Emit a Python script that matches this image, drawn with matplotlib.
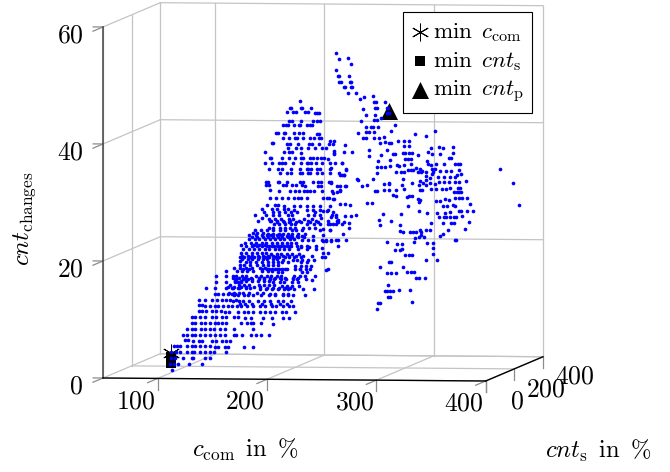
import matplotlib
matplotlib.use('Agg')
import matplotlib.pyplot as plt
from mpl_toolkits.mplot3d import proj3d

plt.rcParams['mathtext.fontset'] = 'cm'

x_ticks = [100, 200, 300, 400]
y_ticks = [0, 200, 400]
z_ticks = [0, 20, 40, 60]

# left cloud, one list of c_com per cnt_changes level, with a cnt_s estimate per level
left_cnt_s = 50
lower_levels = [1, 2, 3, 4, 5, 6, 7, 8, 9, 10, 11, 12, 13, 14, 15, 16, 17, 18]
lower_cnt_s = [50] * 18
lower_c_com = [
    [107],
    [105, 108, 112, 122, 134],
    [106, 109, 117, 125, 126, 137, 141],
    [106, 110, 114, 120, 125, 127, 132, 137, 141, 145, 156],
    [108, 111, 114, 120, 125, 128, 132, 137, 141, 146, 149, 155, 158, 172, 181],
    [118, 121, 126, 131, 134, 143, 147, 152, 156, 160],
    [117, 120, 125, 128, 132, 137, 141, 146, 150, 155, 163, 165, 171, 179, 183, 188, 195],
    [120, 125, 128, 133, 137, 141, 145, 150, 155, 163, 181],
    [125, 128, 133, 137, 141, 146, 149, 152, 156, 170, 175, 179, 181, 188, 199],
    [125, 128, 132, 137, 143, 147, 152, 156, 163, 167, 173, 179, 190, 198, 208, 214],
    [131, 134, 138, 143, 147, 151, 155, 159, 167, 172, 176, 181, 187, 192, 196, 201, 207, 211, 219],
    [131, 134, 137, 141, 146, 149, 153, 158, 161, 166, 170, 175, 181, 187, 192, 198, 202, 208, 214, 217],
    [131, 137, 143, 148, 152, 156, 160, 165],
    [146, 149, 153, 158, 161, 164],
    [138, 146, 156, 161, 167],
    [147, 156, 164, 167, 170],
    [147, 156, 162],
    [156],
]

mid_levels = [29.3, 28.4, 27.6, 26.7, 25.9, 25, 24.2, 23.3, 22.4, 21.6, 20.7, 19.9, 19, 18.2, 17.3, 16.5, 15.6, 14.8, 13.9, 13, 12.2]
mid_cnt_s = [40, 62, 48, 35, 66, 52, 38, 60, 44, 68, 34, 56, 46, 64, 36, 58, 42, 66, 50, 38, 60]
mid_c_com = [
    [195, 202, 205, 210, 219, 225, 231, 237, 243],
    [187, 196, 201, 207, 211, 217, 228, 234, 240, 248],
    [183, 193, 199, 205, 213, 217, 231, 237, 242, 253, 257],
    [187, 199, 205, 210, 216, 225, 233, 240, 251, 259],
    [198, 202, 208, 213, 217, 228, 234, 240, 249, 254],
    [182, 188, 193, 199, 205, 210, 216, 220, 225, 242, 251],
    [179, 185, 190, 195, 199, 204, 208, 213, 217, 222, 227, 237],
    [176, 181, 185, 190, 195, 199, 204, 208, 213, 217, 224, 230, 234, 242, 246, 251, 257],
    [170, 182, 187, 192, 196, 201, 205, 210, 214, 225, 231, 239],
    [169, 175, 179, 184, 189, 193, 198, 202, 207, 211, 219, 228, 236],
    [173, 178, 182, 187, 192, 196, 201, 205, 210, 216, 222, 228, 237, 246, 249],
    [170, 175, 179, 184, 189, 193, 198, 202, 207, 216, 220, 225, 230, 236],
    [169, 173, 178, 185, 190, 195, 199, 204, 220, 225, 230, 234],
    [170, 175, 187, 192, 196, 201, 205, 210, 222, 227, 231, 247],
    [167, 172, 176, 185, 190, 195, 199, 204, 208, 220, 225, 230, 239],
    [164, 170, 175, 179, 185, 190, 195, 199, 205, 210, 216, 220, 228, 234],
    [161, 169, 173, 178, 187, 192, 196, 201, 208, 213, 217, 224],
    [160, 166, 172, 176, 185, 190, 196, 201, 207, 211, 216, 224, 234],
    [163, 167, 172, 176, 181, 188, 195, 201, 208, 213, 217, 228],
    [164, 169, 173, 179, 187, 192, 198, 205, 210, 217],
    [167, 172, 178, 188, 196, 204, 210],
]

# the dense core between the levels above
core_levels = [28, 27.1, 26.3, 25.4, 24.6, 23.7, 22.8, 22, 21.1, 20.3, 19.4, 18.6, 17.8, 16.9, 16, 15.2, 14.3]
core_cnt_s = [58, 36, 64, 44, 30, 62, 48, 70, 38, 54, 66, 32, 60, 42, 68, 46, 34]
core_c_com = [
    [190, 198, 203, 209, 214, 220, 236],
    [191, 197, 203, 208, 215, 219, 229, 236],
    [194, 201, 207, 212, 218, 223, 231, 238],
    [196, 200, 206, 211, 215, 220, 227, 233, 238],
    [183, 187, 192, 197, 202, 207, 211, 215, 219, 224, 231],
    [178, 183, 188, 193, 197, 202, 206, 211, 215, 220, 226],
    [174, 179, 184, 189, 193, 198, 203, 207, 212, 216, 220],
    [172, 177, 182, 186, 191, 195, 200, 204, 209, 213, 218, 222, 229],
    [171, 176, 181, 186, 190, 194, 199, 204, 208, 213, 218, 224],
    [168, 172, 177, 181, 186, 191, 195, 200, 204, 209, 213, 218, 224],
    [167, 172, 176, 181, 187, 192, 197, 201, 205, 211, 222, 228],
    [166, 171, 177, 182, 189, 194, 198, 203, 207, 212, 221, 226],
    [165, 169, 174, 179, 188, 193, 197, 202, 206, 224, 229],
    [163, 169, 174, 180, 187, 192, 197, 202, 206, 211, 218, 223],
    [162, 167, 172, 177, 183, 188, 193, 197, 203, 207, 214, 219],
    [158, 164, 170, 175, 182, 188, 194, 199, 205, 210, 215],
    [161, 165, 170, 174, 179, 186, 192, 198, 203, 210, 215],
]

upper_levels = [47, 46, 45, 43.7, 42.8, 41.7, 40.7, 39.9, 38.9, 38.3, 37.5, 36.4, 35.5, 34.6, 33.4, 32.6, 31.6, 30.5]
upper_cnt_s = [50, 38, 62, 44, 68, 34, 56, 40, 66, 48, 30, 60, 42, 70, 36, 54, 64, 46]
upper_c_com = [
    [224],
    [216, 217, 226, 227, 235],
    [210, 216, 218, 227, 229, 236, 238, 239],
    [214, 217, 225, 236, 240, 243],
    [206, 208, 210, 216, 220, 221, 228, 230, 232],
    [204, 206, 211, 212, 220, 225, 228, 241, 243],
    [207, 213, 218, 220, 226, 232, 236, 240, 242],
    [199, 200, 213, 216, 223, 233, 236, 242, 251, 255],
    [211, 218, 222, 229, 235, 242, 245],
    [192, 209, 214, 217, 225, 255],
    [199, 200, 210, 216, 222, 227, 229, 235, 238, 242, 245, 248, 252],
    [190, 197, 203, 206, 209, 216, 223, 229, 230, 232, 237, 242, 254],
    [196, 205, 208, 216, 225, 231, 232, 235, 240, 243, 252],
    [203, 209, 213, 221, 223, 228, 230, 237, 241, 257],
    [194, 196, 205, 206, 214, 225, 228, 237, 242, 245, 252],
    [192, 195, 208, 210, 216, 219, 225, 228, 240, 242, 257, 260],
    [194, 203, 213, 217, 221, 225, 228, 231, 235, 242, 251],
    [197, 202, 208, 213, 219, 222, 225, 231, 245, 249, 254],
]

# right cloud, (c_com, cnt_changes) pairs
right_cnt_s = 150
top_points = [
    (243, 54.3), (246, 53.3), (254, 53.4), (257, 52.4), (243, 51.3), (245, 50.4), (246, 50.4), (255, 50.4),
    (246, 49.4), (248, 49.4), (256, 49.4), (257, 49.4), (251, 48.5), (252, 48.5), (257, 48.5), (258, 48.5),
    (254, 47.4), (262, 47.4), (265, 46.5), (269, 46.8), (277, 47), (268, 44.8), (278, 46), (280, 46), (288, 46),
    (279, 45), (281, 45), (271, 43.7), (279, 43.7), (290, 45), (291, 45), (290, 44.1), (292, 44.1), (266, 42.7),
    (278, 42.8), (281, 42.9), (285, 43.2), (297, 42.1), (271, 41.7), (275, 41.7), (277, 41.7), (282, 41.7),
]
bridge_points = [
    (238, 39.3), (242, 39.3), (242, 37.6), (242, 37), (238, 35.5), (239, 34.6), (249, 35.5), (253, 34.3),
    (238, 33.8), (247, 33.5), (251, 33.5), (239, 32.3), (239, 32), (253, 31.5), (241, 30.4), (244, 30.6),
    (247, 30.8), (237, 29.4), (242, 29.4),
]
high_points = [
    (264, 40.7), (271, 40.9), (274, 40.9), (278, 40.9), (294, 41.1), (316, 40.5), (326, 40.2), (334, 41.1),
    (268, 39.8), (271, 39.8), (278, 39.8), (283, 39.8), (287, 40), (284, 38.9), (288, 39.1), (292, 39), (294, 39),
    (300, 39.3), (306, 39.3), (310, 39.4), (252, 38.5), (251, 37.4), (258, 37.4), (274, 37.8), (306, 38.4),
    (310, 38.4), (290, 37.8), (296, 37.1), (297, 37.1), (274, 36.8), (285, 36.9), (305, 37.3), (307, 37.3),
    (310, 37.3), (313, 37.3), (318, 36.9), (307, 36.3), (309, 36.3), (312, 36.3), (282, 35.8), (293, 36),
    (312, 35.4), (299, 35.3), (301, 35.1), (306, 35.3), (249, 35.5), (330, 38.2), (338, 38.4), (341, 38.2),
    (350, 38.4), (328, 37.5), (331, 37.1), (339, 37.1), (350, 37.4), (327, 36), (328, 35.4), (330, 35.2),
    (347, 36.4), (349, 36.4), (335, 35.5), (342, 35.4), (352, 35.5), (355, 35.5), (357, 35.5), (356, 34.5),
]
centre_points = [
    (253, 34.5), (281, 34.9), (285, 34.9), (288, 34.9), (293, 35), (317, 34.8), (320, 34.5), (322, 34.3),
    (298, 34), (303, 34.1), (306, 34.1), (309, 34.3), (312, 34.3), (314, 34.3), (318, 34), (321, 34), (326, 34.1),
    (331, 34.6), (334, 34.6), (332, 34.1), (339, 34.3), (344, 34.3), (349, 34.3), (331, 33.7), (249, 33.4),
    (251, 33.4), (281, 33.8), (337, 33.3), (342, 33.3), (348, 33.3), (352, 33.3), (354, 33.6), (358, 33.7),
    (326, 33.3), (326, 32.7), (329, 33), (263, 32.7), (264, 32.6), (277, 32.8), (305, 32.8), (304, 31.8),
    (320, 32.5), (319, 31.8), (323, 32.1), (326, 31.8), (329, 32.1), (334, 32.1), (338, 32.3), (342, 32.4),
    (347, 32.4), (352, 32.4), (356, 32.4), (362, 32.5), (252, 31.6), (267, 31.6), (272, 31.7), (287, 32),
    (292, 32.1), (292, 32), (313, 32.1), (247, 30.7), (279, 30.8), (281, 30.8), (287, 30.9), (292, 31), (298, 31),
    (306, 31.1), (320, 31), (322, 30.9), (330, 31.1), (335, 31.1), (340, 31.1), (344, 31.2), (348, 31.3),
    (355, 31.4), (357, 31.4), (351, 30.6), (354, 30.6), (356, 30.6), (358, 30.7), (296, 30), (298, 30), (310, 30),
    (313, 30), (308, 29.7), (318, 29.4), (320, 29.3), (319, 29), (352, 29.6), (356, 29.6), (359, 29.6), (363, 29.6),
    (335, 29.2), (339, 29.2), (343, 29.4), (347, 29.3),
]
low_points = [
    (238, 28.2), (247, 28.4), (252, 28.4), (256, 28.4), (272, 28.6), (276, 28.7), (309, 28.2), (232, 27.3),
    (235, 27.3), (239, 26.3), (243, 26.3), (241, 27.1), (245, 25.8), (252, 26.4), (257, 26.5), (262, 26.6),
    (230, 26), (236, 25), (241, 25.1), (245, 25.4), (249, 25.1), (251, 25.4), (255, 25.3), (255, 24.4), (232, 24.2),
    (238, 24.1), (250, 23.4), (232, 23.1), (232, 22.1), (234, 22.1), (239, 22.1), (243, 22.3), (253, 22.4),
    (245, 21.3), (231, 21), (232, 20.1), (236, 20.1), (234, 17.2), (286, 26.9), (283, 25.8), (284, 24.9),
    (294, 25.7), (303, 26.8), (302, 25), (302, 24), (305, 23.7), (311, 23.8), (314, 23.8), (317, 23.8), (319, 27.4),
    (327, 27), (330, 25.3), (320, 24.1), (321, 23.8), (326, 24.2), (329, 24.2), (321, 23.3), (319, 23), (316, 22.8),
    (324, 23), (315, 22), (327, 22), (332, 22), (290, 22), (299, 21.7), (304, 21.7), (297, 20.7), (302, 20.7),
    (304, 20.8), (307, 19.8), (310, 19.8), (313, 19.8), (332, 21.1), (332, 20.1), (326, 19), (336, 19.1),
    (292, 18.7), (294, 18.7), (284, 17.7), (305, 17.8), (290, 16.7), (294, 16.7), (298, 16.8), (308, 17), (312, 17),
    (315, 17), (317, 15.9), (319, 16), (325, 16), (291, 14.7), (288, 13.7), (290, 13.7), (293, 13.7), (296, 13.7),
    (301, 13.8), (311, 13.9), (291, 12.7), (293, 12.7), (313, 11.9), (282, 11.6), (284, 11.6), (281, 10.6),
    (336, 27.1), (343, 27.1), (348, 27.2), (341, 28.2), (345, 28.2), (350, 28.5), (352, 28.3), (366, 28.6),
    (356, 27.5), (358, 27.5), (363, 27.5), (369, 27.5), (338, 26.4), (342, 26.4), (344, 26.4), (348, 26.4),
    (351, 26.4), (353, 26.4), (359, 26.6), (341, 25.3), (349, 25.3), (351, 25.4), (365, 25.5), (346, 24.2),
    (361, 24.4), (339, 23.2), (341, 23.4), (352, 22.5), (353, 22.4),
]
tail_points = [(393, 34.6), (405, 32.3), (411, 28.5)]

# minima
min_com = (106, 50, 3.9)
min_s_c_com = [106, 106]
min_s_changes = [3.1, 2.1]
min_p = (292, 150, 44.5)

GRID = '#c4c4c4'
TICK = '#8c8c8c'
BLUE = '#0000ff'


def expand(levels, cnt_s, rows):
    xs = [v for row in rows for v in row]
    ys = [s for s, row in zip(cnt_s, rows) for _ in row]
    zs = [lev for lev, row in zip(levels, rows) for _ in row]
    return xs, ys, zs


def seg(p, q, **kw):
    ax.plot([p[0], q[0]], [p[1], q[1]], [p[2], q[2]], **kw)


fig = plt.figure(figsize=(6.7, 4.72), dpi=100)
ax = fig.add_axes([-0.1, -0.35, 1.2, 1.7], projection='3d', computed_zorder=False, proj_type='ortho')
ax.view_init(elev=3.3, azim=-82.26)
ax.set_axis_off()
ax.set_xlim(50, 400, view_margin=0)
ax.set_ylim(0, 400, view_margin=0)
ax.set_zlim(0, 60, view_margin=0)
ax.set_autoscale_on(False)
ax.set_xticks([])
ax.set_yticks([])
ax.set_zticks([])

# grid on the three back walls
grid_kw = dict(color=GRID, lw=0.9, zorder=1)
for t in x_ticks:
    seg((t, 0, 0), (t, 400, 0), **grid_kw)
    seg((t, 400, 0), (t, 400, 60), **grid_kw)
for t in y_ticks:
    seg((50, t, 0), (400, t, 0), **grid_kw)
    seg((50, t, 0), (50, t, 60), **grid_kw)
for t in z_ticks:
    seg((50, 0, t), (50, 400, t), **grid_kw)
    seg((50, 400, t), (400, 400, t), **grid_kw)

# outer axis lines
seg((50, 0, 0), (50, 0, 60), color='#444444', lw=1.1, zorder=1.5)
seg((50, 0, 0), (400, 0, 0), color='black', lw=1.0, zorder=1.5)
seg((400, 0, 0), (400, 400, 0), color='black', lw=1.0, zorder=1.5)

# tick marks
tick_kw = dict(color=TICK, lw=0.9, zorder=1.2)
for t in x_ticks:
    seg((t, 0, 0), (t, 0, -1.9), **tick_kw)
    seg((t, 0, 0), (t, -70, 0), **tick_kw)
for t in y_ticks:
    seg((400, t, 0), (400, t, -1.9), **tick_kw)
for t in z_ticks:
    seg((50, 0, t), (41, 0, t), **tick_kw)
    seg((50, 0, t), (50, -70, t), **tick_kw)

# minima under the blue dots
h_star = ax.scatter(*[[v] for v in min_com], marker=(6, 2, 0), s=150, c='black', linewidths=0.7,
                    depthshade=False, zorder=2, label=r'$\mathrm{min}\ \,c_{\mathrm{com}}$')
h_sq = ax.scatter(min_s_c_com, [left_cnt_s] * 2, min_s_changes, marker='s', s=62, c='black', linewidths=0,
                  depthshade=False, zorder=2, label=r'$\mathrm{min}\ \,cnt_{\mathrm{s}}$')
h_tri = ax.scatter(*[[v] for v in min_p], marker='^', s=150, c='black', linewidths=0,
                   depthshade=False, zorder=2, label=r'$\mathrm{min}\ \,cnt_{\mathrm{p}}$')

# blue points
dot_kw = dict(s=7, c=BLUE, linewidths=0, depthshade=False, zorder=3, snap=False)
for levels, cnt_s, rows in [(lower_levels, lower_cnt_s, lower_c_com), (mid_levels, mid_cnt_s, mid_c_com),
                            (core_levels, core_cnt_s, core_c_com), (upper_levels, upper_cnt_s, upper_c_com)]:
    xs, ys, zs = expand(levels, cnt_s, rows)
    ax.scatter(xs, ys, zs, **dot_kw)
for points in [top_points, bridge_points, high_points, centre_points, low_points, tail_points]:
    xs, zs = zip(*points)
    ax.scatter(xs, [right_cnt_s] * len(xs), zs, **dot_kw)


# fit the box onto the reference pixels
def to_px(x, y, z):
    xs, ys, _ = proj3d.proj_transform(x, y, z, ax.get_proj())
    return ax.transData.transform((xs, ys))


aspect = (386.2, 425.4, 351.6)
ax.set_box_aspect(aspect)
fig.canvas.draw()
span = to_px(400, 0, 0)[0] - to_px(50, 0, 0)[0]
ax.set_box_aspect(aspect, zoom=382.7 / span)
fig.canvas.draw()
p0 = to_px(50, 0, 0)
pos = ax.get_position(original=True)
ax.set_position([pos.x0 + (103 - p0[0]) / 670, pos.y0 + (94 - p0[1]) / 472, pos.width, pos.height])
fig.canvas.draw()


# tick labels go on the figure, at the projected place of their tick
def tick_label(x, y, z, value, ha='center'):
    px = to_px(x, y, z)
    fig.text(px[0] / 670, px[1] / 472, f'${value}$', fontsize=FS, ha=ha, va='center')


FS = 18.5
LABEL_FS = 17.8
for t in x_ticks:
    tick_label(t - 20, 0, -3.9, t)
for t in y_ticks:
    tick_label(429, t, -3.4, t)
for t in z_ticks:
    tick_label(32, 0, t - 1.5, t, ha='right')

fig.text(245 / 670, 1 - 450 / 472, r'$c_{\mathrm{com}}\ \,\mathrm{in}\ \,\%$', fontsize=LABEL_FS, ha='center', va='center')
fig.text(598 / 670, 1 - 451 / 472, r'$cnt_{\mathrm{s}}\ \,\mathrm{in}\ \,\%$', fontsize=LABEL_FS, ha='center', va='center')
fig.text(25 / 670, 1 - 219 / 472, r'$cnt_{\mathrm{changes}}$', fontsize=LABEL_FS, rotation=90, ha='center', va='center')

leg = fig.legend(handles=[h_star, h_sq, h_tri], loc='upper left', bbox_to_anchor=(402.7 / 670, 1 - 11.7 / 472),
                 borderaxespad=0, fontsize=16.6, fancybox=False, edgecolor='black', framealpha=1,
                 scatterpoints=1, labelspacing=0.22, handletextpad=0.18, handlelength=0.8, borderpad=0.35)
leg.get_frame().set_linewidth(0.8)

fig.savefig('out.png', dpi=100)
